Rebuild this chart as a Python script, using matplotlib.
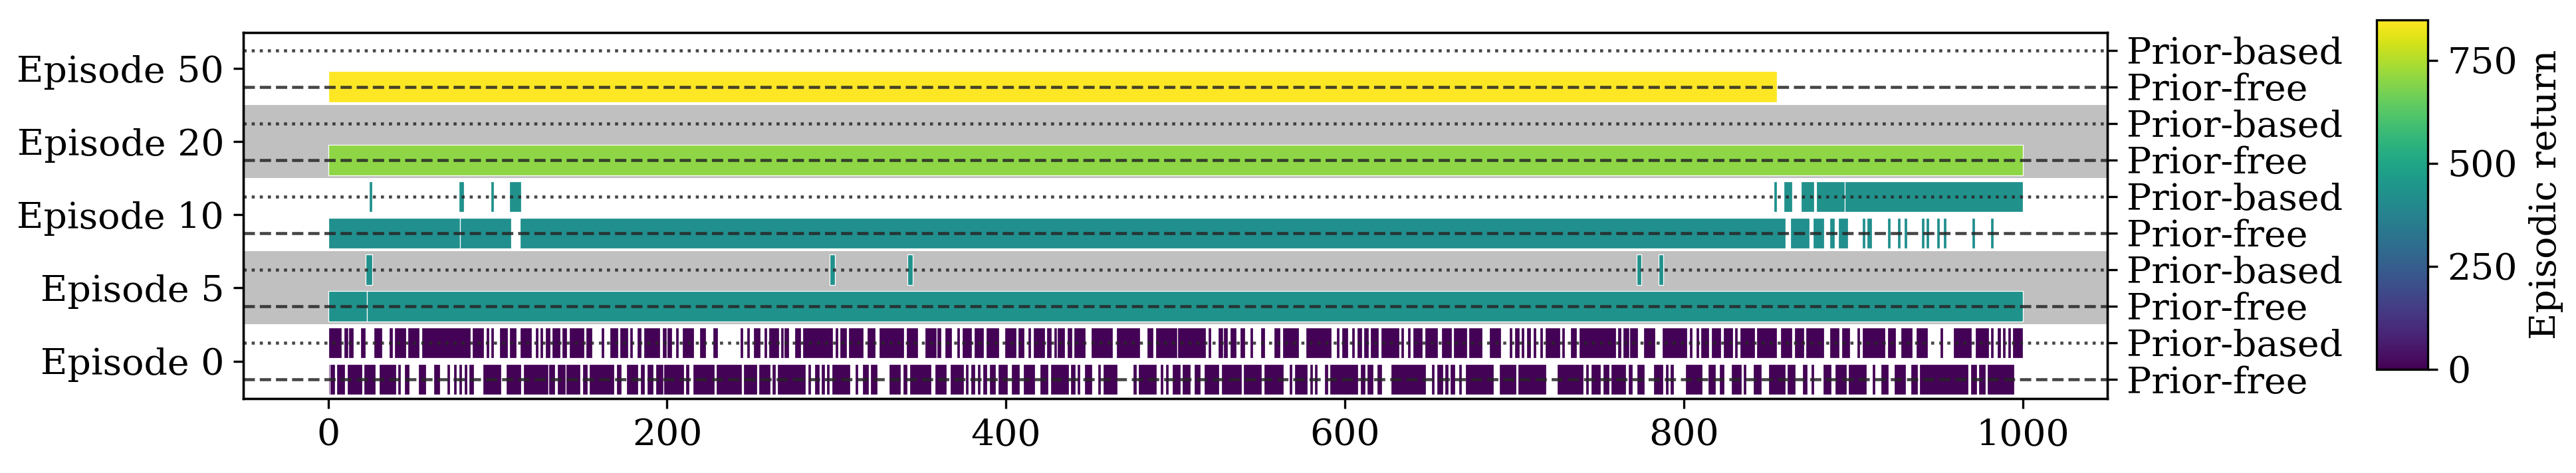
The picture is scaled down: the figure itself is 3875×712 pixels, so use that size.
import matplotlib
matplotlib.use('Agg')
import matplotlib.pyplot as plt
import numpy as np

# 各行的活动区间 (起点, 终点)，时间步
ep0_free = [(0, 1), (1, 4), (5, 10), (11, 20), (21, 28), (30, 40), (41, 43), (45, 48), (53, 58),
            (62, 66), (70, 72), (74, 76), (77, 79), (80, 82), (83, 86), (91, 102), (105, 114),
            (115, 130), (130, 134), (135, 140), (140, 149), (150, 153), (154, 169),
            (170, 173), (176, 183), (184, 187), (188, 192), (193, 198), (198, 210), (211, 213),
            (215, 228), (229, 244), (245, 253), (254, 261), (262, 264), (265, 282), (283, 285),
            (287, 290), (291, 293), (294, 296), (297, 308), (311, 313), (315, 319), (320, 324),
            (331, 338), (339, 342), (343, 356), (358, 365), (367, 375), (376, 378), (379, 382),
            (383, 385), (386, 389), (390, 394), (395, 401), (403, 408), (410, 417), (420, 425),
            (426, 437), (438, 441), (442, 444), (446, 451), (454, 456), (457, 466), (475, 477),
            (478, 489), (491, 493), (494, 496), (498, 503), (504, 509), (511, 515), (517, 526),
            (527, 539), (540, 551), (552, 564), (567, 569), (570, 578), (579, 581), (582, 584),
            (588, 590), (591, 608), (609, 612), (613, 617), (619, 622), (627, 648), (651, 653),
            (654, 658), (659, 661), (662, 665), (667, 669), (671, 688), (691, 701), (702, 719),
            (725, 741), (742, 744), (745, 751), (752, 756), (757, 766), (767, 770), (772, 777),
            (782, 788), (789, 791), (792, 794), (801, 811), (814, 819), (821, 824), (828, 834),
            (835, 837), (841, 846), (850, 860), (861, 866), (870, 873), (875, 877), (882, 887),
            (889, 896), (897, 908), (911, 913), (916, 921), (924, 931), (934, 938), (939, 968),
            (969, 973), (974, 978), (979, 995)]
ep0_based = [(0, 8), (9, 12), (12, 15), (19, 22), (27, 32), (36, 38), (39, 46), (47, 54), (55, 84),
             (85, 92), (93, 95), (96, 98), (101, 106), (107, 111), (113, 120), (122, 124),
             (125, 127), (128, 131), (132, 137), (138, 141), (142, 151), (152, 156), (161, 163),
             (166, 171), (172, 177), (178, 180), (182, 185), (186, 196), (197, 200), (200, 203),
             (205, 207), (209, 216), (219, 223), (227, 230), (243, 245), (247, 249), (251, 255),
             (257, 259), (260, 266), (267, 269), (269, 272), (275, 279), (280, 298), (299, 301),
             (302, 306), (307, 316), (318, 323), (325, 340), (341, 348), (352, 359), (359, 362),
             (364, 368), (371, 373), (374, 380), (381, 387), (388, 396), (399, 406), (407, 411),
             (413, 415), (416, 423), (424, 427), (428, 430), (430, 435), (436, 439), (440, 447),
             (450, 463), (465, 479), (483, 487), (488, 501), (501, 518), (519, 521), (525, 528),
             (528, 531), (532, 536), (538, 541), (544, 546), (550, 553), (558, 562), (563, 573),
             (577, 592), (595, 597), (598, 602), (604, 606), (607, 610), (611, 614), (615, 620),
             (621, 632), (633, 635), (637, 639), (640, 646), (647, 655), (657, 663), (664, 672),
             (673, 681), (685, 692), (697, 699), (700, 703), (704, 706), (707, 710), (711, 713),
             (715, 717), (718, 727), (728, 730), (733, 737), (738, 760), (761, 763), (764, 768),
             (768, 773), (776, 783), (787, 802), (803, 805), (807, 809), (810, 815), (816, 822),
             (823, 829), (830, 832), (833, 842), (843, 855), (857, 864), (865, 871), (872, 883),
             (886, 892), (893, 898), (902, 904), (905, 919), (920, 925), (928, 935), (937, 944),
             (951, 953), (959, 970), (972, 980), (981, 983), (985, 987), (988, 990), (991, 993),
             (994, 1000)]
ep5_free = [(0, 23), (23, 1000)]
ep5_based = [(22, 26), (296, 299), (342, 345), (772, 775), (785, 788)]
ep10_free = [(0, 78), (78, 108), (113, 860), (863, 874), (876, 883), (886, 889), (891, 897),
             (905, 907), (908, 911), (920, 922), (926, 928), (930, 932), (940, 942), (943, 945),
             (949, 951), (953, 955), (970, 972), (981, 983)]
ep10_based = [(24, 26), (77, 80), (96, 98), (107, 114), (853, 855), (859, 864), (869, 877),
              (878, 895), (895, 1000)]
ep20_free = [(0, 1000)]
ep20_based = []
ep50_free = [(0, 855)]
ep50_based = []

# 每行的回合回报（决定颜色）
returns = [4, 6, 430, 425, 420, 425, 705, 705, 849, 849]

episodes = ['Episode 0', 'Episode 5', 'Episode 10', 'Episode 20', 'Episode 50']
row_labels = ['Prior-free', 'Prior-based']

rows = [ep0_free, ep0_based, ep5_free, ep5_based, ep10_free, ep10_based,
        ep20_free, ep20_based, ep50_free, ep50_based]

plt.rcParams['font.family'] = 'serif'
plt.rcParams['font.size'] = 13.3

fig = plt.figure(figsize=(3875 / 300, 712 / 300), dpi=300)
ax = fig.add_axes([0.0945, 0.157, 0.7236, 0.774])

cmap = plt.get_cmap('viridis')
norm = plt.Normalize(0, 849)

for i, segs in enumerate(rows):
    if segs:
        ax.broken_barh([(s, e - s) for s, e in segs], (i - 0.42, 0.84),
                       facecolors=cmap(norm(returns[i])), edgecolor='white',
                       linewidth=0.3, zorder=2)
    # 虚线/点线标记每一行
    ax.axhline(i, color='#262626', alpha=0.85, lw=1.1,
               ls='--' if i % 2 == 0 else ':', zorder=3)

# 灰色背景带：Episode 5 和 Episode 20
for k in (1, 3):
    ax.axhspan(2 * k - 0.5, 2 * k + 1.5, color='silver', lw=0, zorder=0)

ax.set_xlim(-50, 1050)
ax.set_ylim(-0.53, 9.48)
ax.set_xticks(np.arange(0, 1001, 200))
ax.set_yticks(np.arange(len(episodes)) * 2 + 0.5)
ax.set_yticklabels(episodes)

ax2 = ax.twinx()
ax2.set_ylim(ax.get_ylim())
ax2.set_yticks(np.arange(len(rows)))
ax2.set_yticklabels([row_labels[i % 2] for i in range(len(rows))])

cax = fig.add_axes([0.9226, 0.219, 0.0199, 0.739])
sm = plt.cm.ScalarMappable(norm=norm, cmap=cmap)
cb = fig.colorbar(sm, cax=cax)
cb.set_ticks([0, 250, 500, 750])
cb.set_label('Episodic return')

fig.savefig('out.png', dpi=300)
